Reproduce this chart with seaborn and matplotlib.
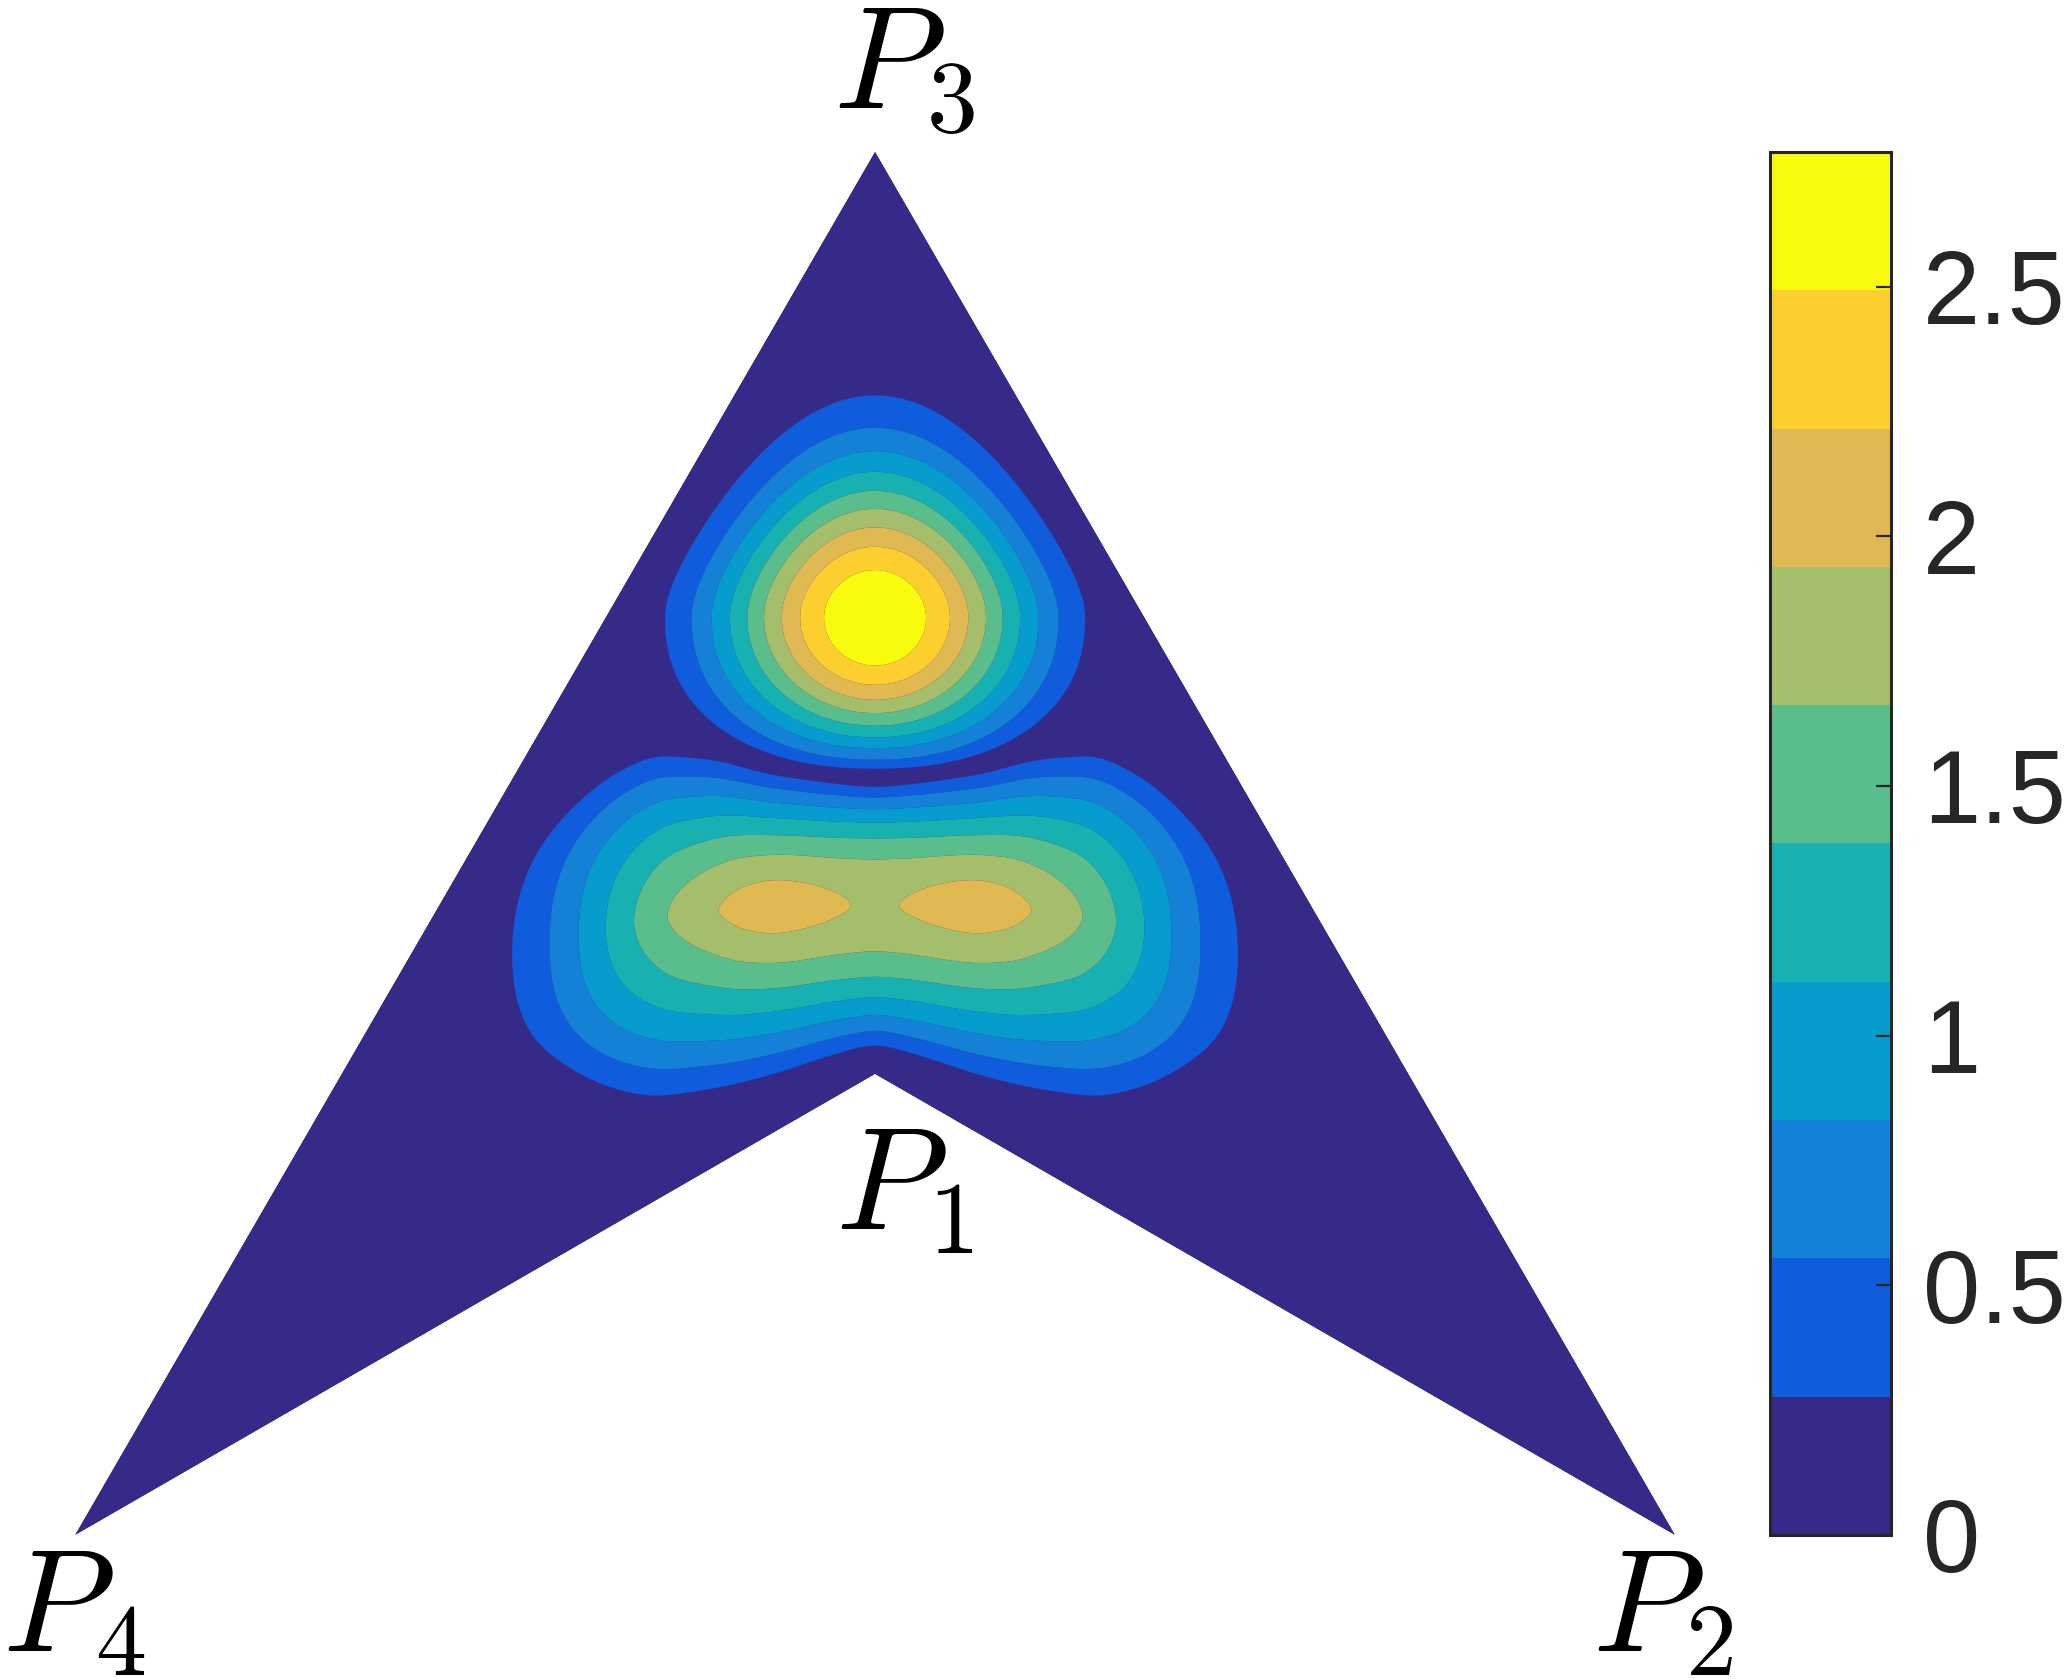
import numpy as np
import matplotlib
matplotlib.use('Agg')
import matplotlib.pyplot as plt
import seaborn as sns
from matplotlib.patches import Polygon
from matplotlib.colors import ListedColormap, BoundaryNorm
import matplotlib.cm as cm

sns.set_theme(style='white')
plt.rcParams['font.family'] = ['Liberation Sans', 'DejaVu Sans']
plt.rcParams['mathtext.fontset'] = 'cm'

# ------------------------------------------------------------------
# Values
# ------------------------------------------------------------------
LEVEL_STEP = 0.277                                   # width of one colour band
N_BANDS = 10
BAND_COLORS = ['#352A87', '#0F5CDD', '#1481D6', '#069DCE', '#17B1B2',
               '#59BD8C', '#A5BE6B', '#E1B952', '#FCCE2E', '#F9FB0E']
CBAR_TICKS = [0, 0.5, 1, 1.5, 2, 2.5]
CBAR_TICK_LABELS = ['0', '0.5', '1', '1.5', '2', '2.5']

# vertices of the domain (equilateral triangle, P1 = centroid)
VERT_NAMES = ['$P_1$', '$P_2$', '$P_3$', '$P_4$']
VERT_X = [0.5, 1.0, 0.5, 0.0]
VERT_Y = [np.sqrt(3) / 6, 0.0, np.sqrt(3) / 2, 0.0]

# upper hump: centre, peak and the distance at which each level
# (0.277, 0.554, ... 2.493) is crossed sideways / upwards / downwards
TOP_CENTER = (0.5, 0.5744)
TOP_PEAK = 2.77
TOP_R_SIDE = [0.1313, 0.1146, 0.1021, 0.0907, 0.0798, 0.0694, 0.0583, 0.0469, 0.0319]
TOP_R_UP = [0.1392, 0.1188, 0.1042, 0.0913, 0.0794, 0.0681, 0.0565, 0.0444, 0.0298]
TOP_R_DOWN = [0.0946, 0.0890, 0.0817, 0.0750, 0.0677, 0.0598, 0.0515, 0.0421, 0.0300]
TOP_TAPER_UP = 0.40                                  # narrowing of the upper half
TOP_ROUND_DOWN = [2.25, 2.2, 2.15, 2.1, 2.05, 2.0, 2.0, 2.0, 2.0]

# lower lobe (left half, mirrored at x = 0.5): ridge height along x
LOBE_X = [0.249, 0.2749, 0.2989, 0.316, 0.3326, 0.3499, 0.3697, 0.402, 0.415,
          0.433, 0.445, 0.466, 0.475, 0.482, 0.5]
LOBE_PEAK = [0.0, 0.297, 0.574, 0.851, 1.127, 1.399, 1.670, 1.941, 2.04,
             2.11, 2.09, 2.01, 1.97, 1.945, 1.90]
# ridge line height
RIDGE_X = [0.25, 0.275, 0.30, 0.33, 0.36, 0.40, 0.433, 0.5]
RIDGE_Y = [0.357, 0.364, 0.371, 0.380, 0.386, 0.3905, 0.3925, 0.394]
# vertical fall-off of the lobe (reach to zero and flatness), above / below
SHAPE_X = [0.27, 0.285, 0.30, 0.33, 0.36, 0.40, 0.433, 0.466, 0.5]
FLAT_UP = [2.0, 2.4, 2.5, 2.0, 1.65, 1.53, 1.52, 1.75, 2.05]
REACH_UP = [0.075, 0.086, 0.093, 0.107, 0.115, 0.105, 0.0917, 0.085, 0.0796]
FLAT_DOWN = [2.0, 2.35, 2.45, 1.9, 1.45, 1.3, 1.26, 1.45, 1.72]
REACH_DOWN = [0.075, 0.086, 0.093, 0.115, 0.128, 0.125, 0.1175, 0.105, 0.094]

# ------------------------------------------------------------------
# Field on a fine grid
# ------------------------------------------------------------------
gx = np.linspace(0.0, 1.0, 801)
gy = np.linspace(0.0, np.sqrt(3) / 2, 700)
X, Y = np.meshgrid(gx, gy)
lev = LEVEL_STEP * np.arange(1, N_BANDS)


def smooth_along_x(v, width=0.008):
    cells = width / (gx[1] - gx[0])
    r = int(3 * cells)
    k = np.exp(-0.5 * (np.arange(-r, r + 1) / cells) ** 2)
    k /= k.sum()
    return np.convolve(np.pad(v, r, mode='edge'), k, mode='valid')


def top_hump(X, Y):
    dy = Y - TOP_CENTER[1]
    u = np.clip(dy, 0, None) / TOP_R_UP[0]
    dx = (X - TOP_CENTER[0]) * (1 + TOP_TAPER_UP * (np.sqrt(u ** 2 + 0.15 ** 2) - 0.15))
    rho = np.hypot(dx, dy)
    with np.errstate(divide='ignore', invalid='ignore'):
        c = np.where(rho > 0, np.abs(dx) / rho, 1.0)
        s = np.where(rho > 0, np.abs(dy) / rho, 0.0)
    up = (dy >= 0)[None]
    p = np.where(up, 2.0, np.array(TOP_ROUND_DOWN)[:, None, None])
    rs = np.array(TOP_R_SIDE)[:, None, None]
    rv = np.where(up, np.array(TOP_R_UP)[:, None, None],
                  np.array(TOP_R_DOWN)[:, None, None])
    R = (c[None] ** p / rs ** p + s[None] ** p / rv ** p) ** (-1.0 / p)
    n = (R > rho[None]).sum(axis=0)
    out = np.zeros_like(rho)
    inner = n == len(lev)
    out[inner] = TOP_PEAK - (TOP_PEAK - lev[-1]) * (rho[inner] / R[-1][inner]) ** 2
    outer = n == 0
    out[outer] = np.clip(lev[0] - LEVEL_STEP * (rho[outer] - R[0][outer])
                         / (R[0][outer] - R[1][outer]), 0, None)
    mid = (n > 0) & (n < len(lev))
    nm = n[mid]
    Rm = R[:, mid]
    k = np.arange(nm.size)
    Ra = Rm[nm - 1, k]
    Rb = Rm[nm, k]
    out[mid] = nm * LEVEL_STEP + LEVEL_STEP * (Ra - rho[mid]) / (Ra - Rb)
    return out


def lower_lobe(X, Y):
    xx = np.minimum(gx, 1 - gx)
    peak = smooth_along_x(np.interp(xx, LOBE_X, LOBE_PEAK, left=0.0), 0.006)[None]
    ridge = smooth_along_x(np.interp(xx, RIDGE_X, RIDGE_Y))[None]
    mu = smooth_along_x(np.interp(xx, SHAPE_X, FLAT_UP))[None]
    md = smooth_along_x(np.interp(xx, SHAPE_X, FLAT_DOWN))[None]
    Du = smooth_along_x(np.interp(xx, SHAPE_X, REACH_UP))[None]
    Dd = smooth_along_x(np.interp(xx, SHAPE_X, REACH_DOWN))[None]
    d = Y - ridge
    above = d >= 0
    m = np.where(above, mu, md)
    D = np.where(above, Du, Dd)
    t = np.clip(np.abs(d) / D, 0, 1)
    return peak * (1 - t ** m)


F = np.maximum(top_hump(X, Y), lower_lobe(X, Y))

# ------------------------------------------------------------------
# Drawing
# ------------------------------------------------------------------
W, H = 2071, 1679
fig = plt.figure(figsize=(W / 100, H / 100), dpi=100)
ax = fig.add_axes([75.3 / W, 1 - 1534.8 / H, 1599.5 / W, 1382.8 / H])
ax.set_xlim(0, 1)
ax.set_ylim(0, np.sqrt(3) / 2)
ax.axis('off')

domain = Polygon(list(zip([VERT_X[3], VERT_X[0], VERT_X[1], VERT_X[2]],
                          [VERT_Y[3], VERT_Y[0], VERT_Y[1], VERT_Y[2]])),
                 closed=True, facecolor=BAND_COLORS[0], edgecolor='none')
ax.add_patch(domain)

bounds = [-10.0] + list(lev) + [10.0]
cs = ax.contourf(X, Y, F, levels=bounds, colors=BAND_COLORS, antialiased=True)
cs.set_clip_path(domain)

# vertex labels (placed just outside each vertex)
label_pos = {'$P_1$': (0.475, 0.1916), '$P_2$': (0.948, -0.0727),
             '$P_3$': (0.474, 0.8935), '$P_4$': (-0.046, -0.0727)}
for name in VERT_NAMES:
    lx, ly = label_pos[name]
    ax.text(lx, ly, name, fontsize=105, color='black', ha='left', va='baseline')

# colour bar
cax = fig.add_axes([1770 / W, 1 - 1534.8 / H, 121 / W, 1382.8 / H])
norm = BoundaryNorm(LEVEL_STEP * np.arange(N_BANDS + 1), N_BANDS)
sm = cm.ScalarMappable(norm=norm, cmap=ListedColormap(BAND_COLORS))
cb = fig.colorbar(sm, cax=cax, ticks=CBAR_TICKS)
cb.minorticks_off()
cb.ax.set_yticklabels(CBAR_TICK_LABELS)
cb.outline.set_linewidth(2.2)
cb.outline.set_edgecolor('#262626')
cax.set_axisbelow(False)
cax.yaxis.set_ticks_position('right')
cax.tick_params(axis='y', which='major', direction='in', length=11, width=1.6,
                color='#262626', labelcolor='#262626', labelsize=74, pad=23,
                right=True, left=False)

fig.savefig('out.png', dpi=100)
